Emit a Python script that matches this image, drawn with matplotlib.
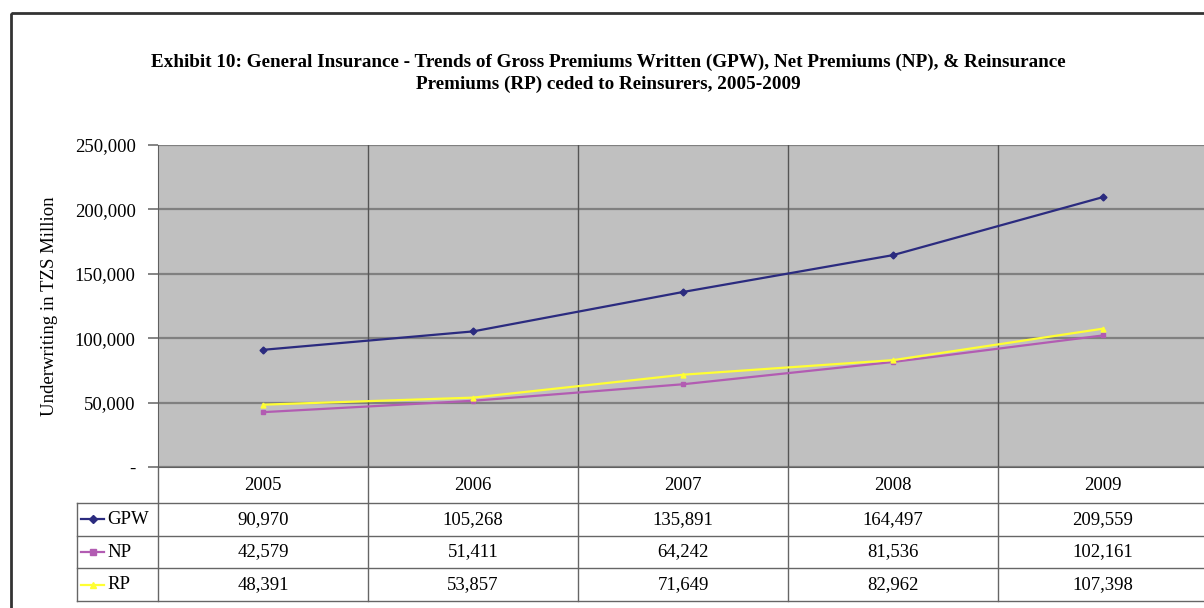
import matplotlib.pyplot as plt
from matplotlib.patches import Rectangle
from matplotlib.lines import Line2D

plt.rcParams['font.family'] = ['Liberation Serif', 'DejaVu Serif']

years = ['2005', '2006', '2007', '2008', '2009']
gpw = [90970, 105268, 135891, 164497, 209559]
np_ = [42579, 51411, 64242, 81536, 102161]
rp = [48391, 53857, 71649, 82962, 107398]
series_names = ['GPW', 'NP', 'RP']
yticks = [0, 50000, 100000, 150000, 200000, 250000]
ytick_labels = ['-', '50,000', '100,000', '150,000', '200,000', '250,000']

colors = ['#2b2b7f', '#b25cb2', '#ffff33']
markers = ['D', 's', '^']

W, H = 1204, 608
fig = plt.figure(figsize=(W / 100, H / 100), dpi=100)
fig.patch.set_facecolor('white')

# layout in pixels
left, right, top, bottom = 158, 1208, 145, 467
colw = (right - left) / len(years)

ax = fig.add_axes([left / W, 1 - bottom / H, (right - left) / W, (bottom - top) / H])
ax.set_facecolor('#c0c0c0')
x = list(range(len(years)))
for vals, c, m in zip([gpw, np_, rp], colors, markers):
    ax.plot(x, vals, color=c, lw=1.6, marker=m, ms=3.5, mec=c, mfc=c, zorder=3)
ax.set_xlim(-0.5, len(years) - 0.5)
ax.set_ylim(0, 250000)
ax.set_yticks(yticks)
ax.set_yticklabels(ytick_labels, fontsize=13.5)
ax.set_xticks([])
ax.yaxis.grid(True, color='#808080', lw=1.6)
for i in range(1, len(years)):
    ax.axvline(i - 0.5, color='#555555', lw=1.0)
ax.set_axisbelow(True)
ax.tick_params(axis='y', length=7, width=1.2, color='#707070', pad=9)
for s in ['top', 'right']:
    ax.spines[s].set_visible(False)
ax.spines['left'].set_color('#606060')
ax.spines['bottom'].set_color('#606060')
ax.set_ylabel('Underwriting in TZS Million', fontsize=13.5, labelpad=12)

# overlay for title, frame and data table
ov = fig.add_axes([0, 0, 1, 1], zorder=-1)
ov.set_xlim(0, W)
ov.set_ylim(H, 0)
ov.axis('off')
ov.add_patch(Rectangle((11, 13), W + 20, H, fill=False, ec='#333333', lw=2))

fig.text(0.505, 1 - 62 / H,
         'Exhibit 10: General Insurance - Trends of Gross Premiums Written (GPW), Net Premiums (NP), & Reinsurance',
         ha='center', va='center', fontsize=13.8, fontweight='bold')
fig.text(0.505, 1 - 84 / H, 'Premiums (RP) ceded to Reinsurers, 2005-2009',
         ha='center', va='center', fontsize=13.8, fontweight='bold')

tab = fig.add_axes([0, 0, 1, 1], zorder=2)
tab.set_xlim(0, W)
tab.set_ylim(H, 0)
tab.axis('off')
lc = '#666666'
hdr_b = 503
row_h = 32.7
key_l = 77
# header row
for i, yr in enumerate(years):
    tab.text(left + (i + 0.5) * colw, (bottom + hdr_b) / 2, yr, ha='center', va='center', fontsize=13.5)
# vertical lines
for i in range(len(years) + 1):
    tab.plot([left + i * colw] * 2, [bottom, hdr_b + 3 * row_h], color=lc, lw=1.0)
tab.plot([key_l, key_l], [hdr_b, hdr_b + 3 * row_h], color=lc, lw=1.0)
# horizontal lines
tab.plot([key_l, right], [hdr_b, hdr_b], color=lc, lw=1.0)
for r in range(1, 4):
    tab.plot([key_l, right], [hdr_b + r * row_h] * 2, color=lc, lw=1.0)

for r, (name, vals, c, m) in enumerate(zip(series_names, [gpw, np_, rp], colors, markers)):
    yc = hdr_b + (r + 0.5) * row_h
    tab.add_line(Line2D([81, 104], [yc, yc], color=c, lw=1.6))
    tab.plot([92.5], [yc], marker=m, ms=4, color=c)
    tab.text(107, yc, name, ha='left', va='center', fontsize=13.5)
    for i, v in enumerate(vals):
        tab.text(left + (i + 0.5) * colw, yc, f'{v:,}', ha='center', va='center', fontsize=13.5)

fig.savefig('out.png', dpi=100)
